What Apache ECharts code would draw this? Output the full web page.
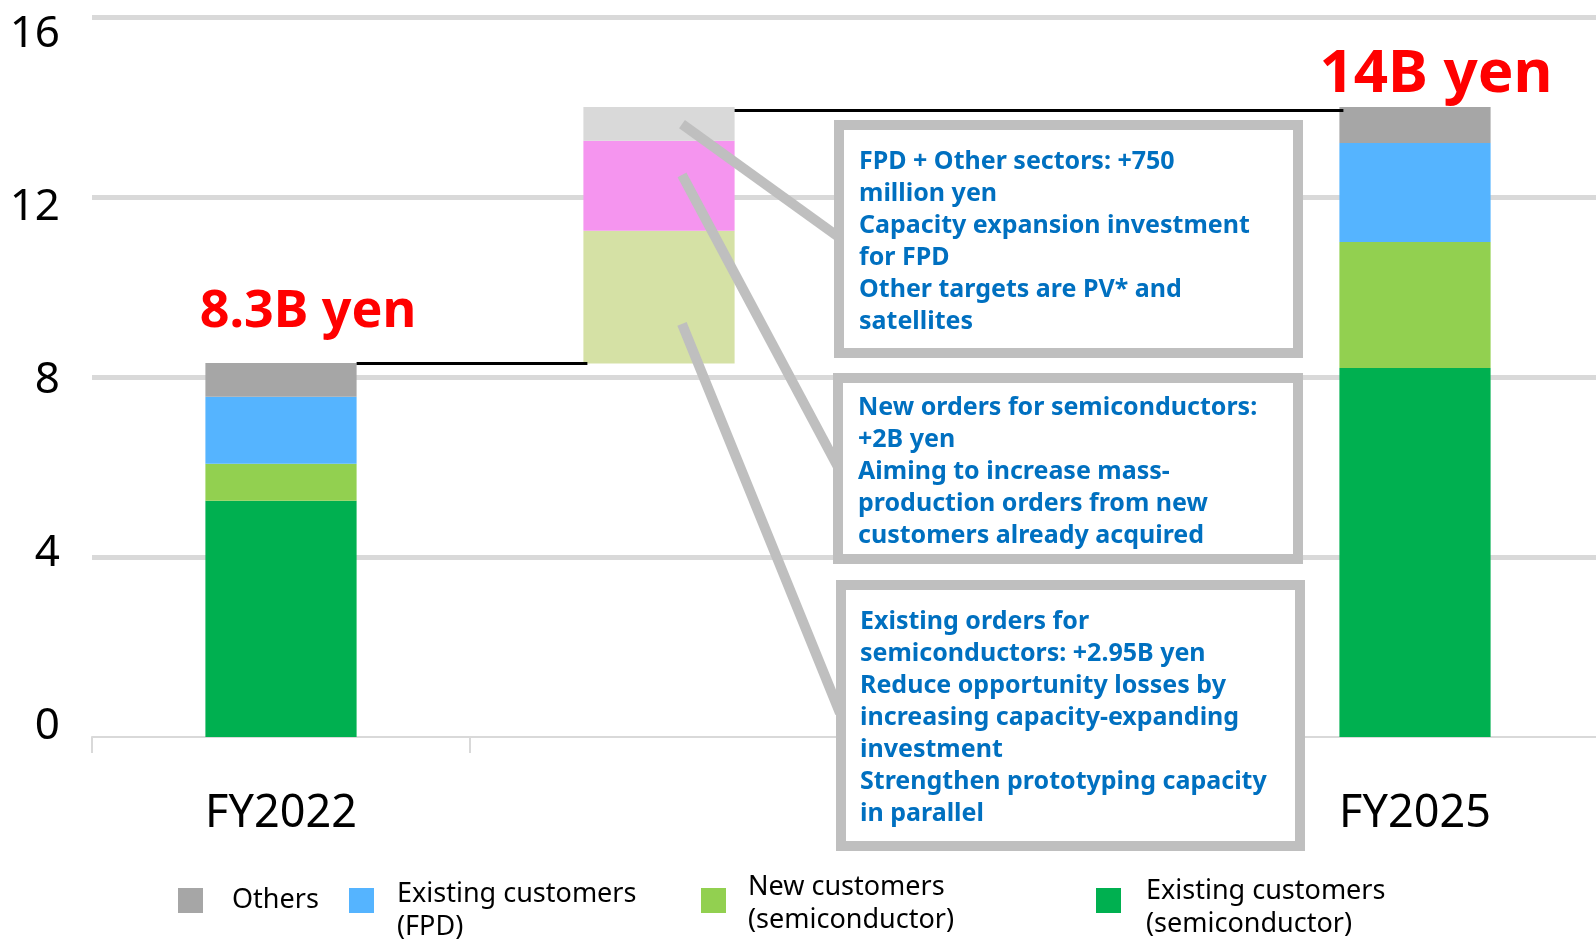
<!DOCTYPE html>
<html><head><meta charset="utf-8">
<script src="https://cdn.jsdelivr.net/npm/echarts@6/dist/echarts.min.js"></script>
<style>html,body{margin:0;padding:0;background:#fff}#c{width:1596px;height:939px}</style>
</head><body><div id="c"></div>
<script>
// ---- data (billion yen) ----
const categories = ['FY2022', '', '', 'FY2025'];
const yTicks = [0, 4, 8, 12, 16];
const existingSemi = [5.25, '-', '-', 8.2];
const newCustomers = [0.82, '-', '-', 2.8];
const existingFPD = [1.49, '-', '-', 2.2];
const others = [0.75, '-', '-', 0.8];
const waterfallBase = ['-', 8.3, '-', '-'];
const incExistingSemi = ['-', 2.95, '-', '-'];
const incNewSemi = ['-', 2.0, '-', '-'];
const incFpdOther = ['-', 0.75, '-', '-'];
const totalLabels = ['8.3B yen', '', '', '14B yen'];
const connectors = [[0, 1, 8.3], [1, 3, 13.92]]; // from category, to category, level
const calloutTexts = [
  'FPD + Other sectors: +750\nmillion yen\nCapacity expansion investment\nfor FPD\nOther targets are PV* and\nsatellites',
  'New orders for semiconductors:\n+2B yen\nAiming to increase mass-\nproduction orders from new\ncustomers already acquired',
  'Existing orders for\nsemiconductors: +2.95B yen\nReduce opportunity losses by\nincreasing capacity-expanding\ninvestment\nStrengthen prototyping capacity\nin parallel'
];
const calloutAnchorValues = [13.62, 12.49, 9.18];

// ---- styling ----
const FONT = 'Noto Sans';
const C_OTHERS = '#A6A6A6', C_FPD = '#55B4FF', C_NEW = '#92D050', C_EXIST = '#00B050';

const chart = echarts.init(document.getElementById('c'), null, {renderer: 'canvas'});

const labelCfg = [
  {fontSize: 52, distance: 25, offset: [27, 0]},
  {}, {},
  {fontSize: 60, distance: 2, offset: [21, 0]}
];
const othersData = others.map((v, i) => totalLabels[i] ? ({
  value: v,
  label: {show: true, position: 'top', formatter: totalLabels[i], color: '#FF0000',
    fontWeight: 'bold', fontFamily: FONT, fontSize: labelCfg[i].fontSize,
    distance: labelCfg[i].distance, offset: labelCfg[i].offset}
}) : v);

const legendText = {fontSize: 27, color: '#000', fontFamily: FONT, lineHeight: 33};
const legendCommon = {orient: 'horizontal', padding: 0, itemWidth: 25, itemHeight: 25,
  icon: 'rect', selectedMode: false};

const barBase = {type: 'bar', stack: 'total', barWidth: '40%', xAxisIndex: 0, yAxisIndex: 0};

chart.setOption({
  animation: false,
  backgroundColor: '#fff',
  textStyle: {fontFamily: FONT},
  grid: {left: 92, top: 17, width: 1512, height: 720, containLabel: false, outerBoundsMode: 'none'},
  legend: [
    Object.assign({}, legendCommon, {data: ['Others'], left: 178, top: 884,
      textStyle: Object.assign({}, legendText, {padding: [0, 0, 0, 24]})}),
    Object.assign({}, legendCommon, {data: ['Existing customers\n(FPD)'], left: 349, top: 877.5,
      icon: 'path://M0,0H25V25H0Z M0,45', itemHeight: 45,
      textStyle: Object.assign({}, legendText, {padding: [0, 0, 0, 18]})}),
    Object.assign({}, legendCommon, {data: ['New customers\n(semiconductor)'], left: 701, top: 871,
      icon: 'path://M0,0H25V25H0Z M0,32', itemHeight: 32,
      textStyle: Object.assign({}, legendText, {padding: [0, 0, 0, 17]})}),
    Object.assign({}, legendCommon, {data: ['Existing customers\n(semiconductor)'], left: 1096, top: 874.5,
      icon: 'path://M0,0H25V25H0Z M0,39', itemHeight: 39,
      textStyle: Object.assign({}, legendText, {padding: [0, 0, 0, 20]})})
  ],
  xAxis: {
    type: 'category', data: categories, boundaryGap: true,
    axisLine: {show: true, lineStyle: {color: '#D9D9D9', width: 2}},
    axisTick: {show: true, length: 16, lineStyle: {color: '#D9D9D9', width: 2}},
    axisLabel: {interval: 0, fontSize: 45, color: '#000', margin: 55, fontFamily: FONT},
    splitLine: {show: false}
  },
  yAxis: [
    {
      type: 'value', min: 0, max: 16, interval: 4,
      axisLine: {show: false}, axisTick: {show: false}, axisLabel: {show: false},
      splitLine: {show: true, showMinLine: false, lineStyle: {color: '#D9D9D9', width: 5}}
    },
    {
      type: 'value', position: 'left', min: -0.254, max: 16.416,
      axisLine: {show: false}, axisTick: {show: false}, splitLine: {show: false},
      axisLabel: {customValues: yTicks, fontSize: 44, color: '#000', margin: 32, fontFamily: FONT}
    }
  ],
  series: [
    Object.assign({}, barBase, {name: 'waterfall base', data: waterfallBase,
      itemStyle: {color: 'rgba(0,0,0,0)'}, silent: true}),
    Object.assign({}, barBase, {name: 'Existing customers\n(semiconductor)', data: existingSemi, itemStyle: {color: C_EXIST}}),
    Object.assign({}, barBase, {name: 'New customers\n(semiconductor)', data: newCustomers, itemStyle: {color: C_NEW}}),
    Object.assign({}, barBase, {name: 'Existing customers\n(FPD)', data: existingFPD, itemStyle: {color: C_FPD}}),
    Object.assign({}, barBase, {name: 'Others', data: othersData, itemStyle: {color: C_OTHERS}}),
    Object.assign({}, barBase, {name: 'inc existing semi', data: incExistingSemi, itemStyle: {color: '#D5E1A5'}}),
    Object.assign({}, barBase, {name: 'inc new semi', data: incNewSemi, itemStyle: {color: '#F595EF'}}),
    Object.assign({}, barBase, {name: 'inc FPD other', data: incFpdOther, itemStyle: {color: '#D9D9D9'}}),
    {
      type: 'custom', name: 'connectors', xAxisIndex: 0, yAxisIndex: 0, z: 5,
      data: connectors, encode: {x: [0, 1], y: 2},
      renderItem: function (params, api) {
        const p1 = api.coord([api.value(0), api.value(2)]);
        const p2 = api.coord([api.value(1), api.value(2)]);
        const half = api.size([1, 0])[0] * 0.4 / 2;
        return {type: 'line', shape: {x1: p1[0] + half, y1: p1[1], x2: p2[0] - half + 4, y2: p2[1]},
          style: {stroke: '#000', lineWidth: 3}};
      }
    }
  ]
});

// ---- callout annotations ----
const boxes = [
  {x: 839, y: 125, w: 459, h: 228, tx: 859, ty: 146, ex: 840, ey: 238},
  {x: 838, y: 378, w: 460, h: 181, tx: 858, ty: 392, ex: 839, ey: 469},
  {x: 841, y: 585, w: 459, h: 261, tx: 860, ty: 606, ex: 840, ey: 713}
];
const graphics = [];
boxes.forEach((b, i) => {
  const p = chart.convertToPixel({xAxisIndex: 0, yAxisIndex: 0}, [1, calloutAnchorValues[i]]);
  graphics.push({type: 'line', z: 100, shape: {x1: p[0] + 23, y1: p[1], x2: b.ex, y2: b.ey},
    style: {stroke: '#BFBFBF', lineWidth: 10}});
});
boxes.forEach((b, i) => {
  graphics.push({type: 'rect', z: 101, shape: {x: b.x, y: b.y, width: b.w, height: b.h},
    style: {fill: '#fff', stroke: '#BFBFBF', lineWidth: 10}});
  graphics.push({type: 'text', z: 102, x: b.tx, y: b.ty,
    style: {text: calloutTexts[i], fill: '#0070C0', fontFamily: FONT, fontWeight: 'bold',
      fontSize: 25, lineHeight: 32, verticalAlign: 'top', align: 'left'}});
});
chart.setOption({graphic: graphics});
</script>
</body></html>
